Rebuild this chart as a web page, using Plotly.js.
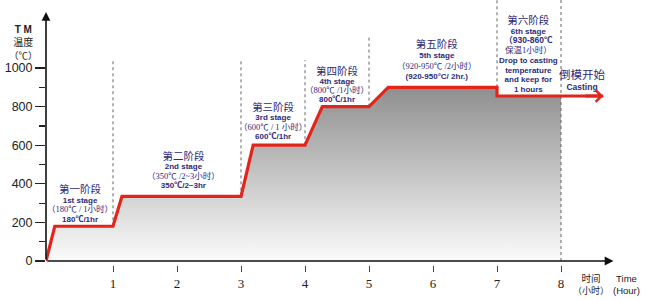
<!DOCTYPE html>
<html><head><meta charset="utf-8">
<script src="https://cdn.plot.ly/plotly-3.0.1.min.js"></script>
<style>body{margin:0;padding:0;background:#fff}#chart{width:650px;height:300px}</style>
</head><body><div id="chart"></div>
<script>
// ---- data ----
const timeHours = [-0.047, 0.09, 1.0, 1.14, 3.0, 3.19, 4.0, 4.27, 5.0, 5.30, 7.0, 7.0, 8.66];
const tempC     = [0, 180, 180, 335, 335, 600, 600, 800, 800, 900, 900, 855, 855];
const fillEndHour = 8;
const stageBoundaries = [1, 3, 4, 5, 7, 8];
const boundaryBottom  = [180, 335, 600, 800, 900, 0];
const boundaryTop     = [1041, 1041, 1041, 1171, 1352, 1352];
const xTickVals = [1, 2, 3, 4, 5, 6, 7, 8];
const xTickText = ['1', '2', '3', '4', '5', '6', '7', '8'];
const yTickVals = [0, 200, 400, 600, 800, 1000];
const yTickText = ['0', '200', '400', '600', '800', '1000'];
const yMinorVals = [100, 300, 500, 700, 900];

const stageTitles = ['第一阶段', '第二阶段', '第三阶段', '第四阶段', '第五阶段', '第六阶段'];
const stageEn = ['1st stage', '2nd stage', '3rd stage', '4th stage', '5th stage', '6th stage'];
const stageCn = ['（180℃ / 1小时）', '（350℃ /2~3小时）', '（600℃ / 1 小时）', '（800℃ /1小时）', '（920-950℃ /2小时）', '（930-860℃'];
const stageShort = ['180℃/1hr', '350℃/2~3hr', '600℃/1hr', '800℃/1hr', '(920-950°C/ 2hr.)', '保温1小时）'];
const stage6Extra = ['Drop to casting', 'temperature', 'and keep for', '1 hours'];

// ---- layout helpers ----
const L = 46, PW = 584, PH = 265;
function P(x, y) { return {xref: 'paper', yref: 'paper', x: (x - L) / PW, y: (PH - y) / PH}; }
const NAVY = '#2d2a7a', RED = '#e1251b';
const CJK = 'Noto Sans CJK SC';
const SANS = 'Liberation Sans';
const SERIF = 'Liberation Serif';

function span(t, size, fam, bold) {
  const s = '<span style="font-size:' + size + 'px;font-family:' + fam + ',Noto Sans CJK SC">' + t + '</span>';
  return bold ? '<b>' + s + '</b>' : s;
}
function block(x, yFirst, yLast, lines, color) {
  const n = lines.length;
  const spacing = n > 1 ? (yLast - yFirst) / (n - 1) : 10;
  return Object.assign(P(x, (yFirst + yLast) / 2), {
    text: lines.map(l => span(l[0], l[1], l[2], l[3])).join('<br>'),
    showarrow: false, xanchor: 'center', yanchor: 'middle', borderpad: 0,
    font: {size: spacing / 1.3, family: CJK, color: color || NAVY}
  });
}

const centers = [80, 183, 273, 337, 437, 528];
const tops = [188, 155, 106, 70, 43, 19];
const bottoms = [217, 183, 134, 97, 74, 87];
const ann = [];
for (let i = 0; i < 6; i++) {
  const lines = [[stageTitles[i], 10.5, CJK, false], [stageEn[i], 8, SANS, true]];
  if (i < 5) {
    lines.push([stageCn[i], 8.5, SERIF, false]);
    lines.push([stageShort[i], 8, SANS, true]);
  } else {
    lines.push([stageCn[i], 8.5, SANS, true]);
    lines.push([stageShort[i], 8.5, SERIF, false]);
    stage6Extra.forEach(s => lines.push([s, 8, SANS, true]));
  }
  ann.push(block(centers[i], tops[i], bottoms[i], lines));
}
ann.push(block(582, 73, 84, [['倒模开始', 11.5, CJK, false], ['Casting', 8.5, SANS, true]]));
// axis titles
ann.push(block(23, 30, 56, [['T M', 10, SANS, true], ['温度', 10, CJK, false], ['（℃）', 9.5, CJK, false]], '#222'));
ann.push(block(591, 278, 290, [['时间', 9.5, CJK, false], ['（小时）', 9, CJK, false]], '#222'));
ann.push(block(626, 278, 290, [['Time', 9.5, SANS, false], ['(Hour)', 9.5, SANS, false]], '#222'));

// arrows
ann.push({x: -0.047, y: 1290, ax: -0.047, ay: 0, xref: 'x', yref: 'y', axref: 'x', ayref: 'y',
  text: '', showarrow: true, arrowhead: 2, arrowsize: 1.1, arrowwidth: 1.6, arrowcolor: '#111'});
ann.push({x: 8.82, y: 0, ax: -0.047, ay: 0, xref: 'x', yref: 'y', axref: 'x', ayref: 'y',
  text: '', showarrow: true, arrowhead: 2, arrowsize: 1.1, arrowwidth: 1.6, arrowcolor: '#111'});
const last = timeHours.length - 1;
ann.push({x: timeHours[last], y: tempC[last], ax: timeHours[last] - 0.3, ay: tempC[last],
  xref: 'x', yref: 'y', axref: 'x', ayref: 'y',
  text: '', showarrow: true, arrowhead: 4, arrowsize: 0.75, arrowwidth: 3, arrowcolor: RED});

// ---- traces ----
const fillX = timeHours.slice(0, 12).concat([fillEndHour]);
const fillY = tempC.slice(0, 12).concat([tempC[11]]);
const fillTrace = {
  x: fillX, y: fillY, mode: 'lines', line: {width: 0}, fill: 'tozeroy',
  fillgradient: {type: 'vertical', start: 0, stop: 900,
    colorscale: [[0, '#fbfbfb'], [1, '#8f8f8f']]},
  hoverinfo: 'skip', showlegend: false
};
const bx = [], by = [];
stageBoundaries.forEach((b, i) => { bx.push(b, b, null); by.push(boundaryBottom[i], boundaryTop[i], null); });
const boundTrace = {x: bx, y: by, mode: 'lines', line: {color: '#666', width: 1, dash: 'dot'},
  hoverinfo: 'skip', showlegend: false};
const redTrace = {x: timeHours, y: tempC, mode: 'lines', line: {color: RED, width: 3.2},
  hoverinfo: 'skip', showlegend: false};

const layout = {
  width: 650, height: 300,
  margin: {l: L, r: 650 - L - PW, t: 0, b: 300 - PH},
  paper_bgcolor: '#fff', plot_bgcolor: '#fff',
  showlegend: false,
  xaxis: {range: [-0.047, -0.047 + PW / 64], showgrid: false, zeroline: false, showline: false,
    tickvals: xTickVals, ticktext: xTickText, ticks: 'outside', ticklen: 6, tickwidth: 1, tickcolor: '#444',
    tickfont: {family: SERIF, size: 13, color: '#222'}},
  yaxis: {range: [-20.7, 1352.3], showgrid: false, zeroline: false, showline: false,
    tickvals: yTickVals, ticktext: yTickText, ticks: 'outside', ticklen: 10, tickwidth: 1.2, tickcolor: '#222',
    tickfont: {family: SANS, size: 12.5, color: '#222'},
    minor: {tickvals: yMinorVals, ticks: 'outside', ticklen: 6, tickwidth: 1.2, tickcolor: '#222'}},
  annotations: ann
};
Plotly.newPlot('chart', [fillTrace, boundTrace, redTrace], layout, {staticPlot: true});
</script></body></html>
